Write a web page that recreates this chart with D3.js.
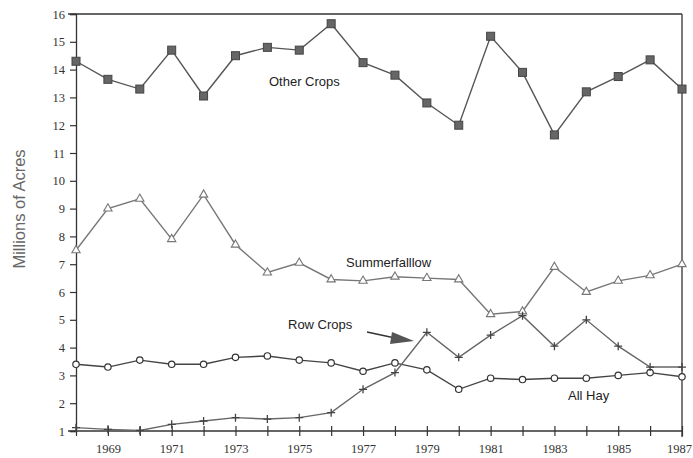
<!DOCTYPE html>
<html><head><meta charset="utf-8">
<script src="https://cdn.jsdelivr.net/npm/d3@7"></script>
<style>body{margin:0;background:#fff}svg{display:block}</style>
</head><body><svg id="c" width="693" height="458"></svg>
<script>
const years = d3.range(1968, 1988);
const yearLabels = [1969,1971,1973,1975,1977,1979,1981,1983,1985,1987];
const yTicks = d3.range(1, 17);
const otherCrops = [14.3,13.65,13.3,14.7,13.05,14.5,14.8,14.7,15.65,14.25,13.8,12.8,12.0,15.2,13.9,11.65,13.2,13.75,14.35,13.3];
const summerfallow = [7.5,9.0,9.35,7.9,9.5,7.7,6.7,7.05,6.45,6.4,6.55,6.5,6.45,5.2,5.3,6.9,6.0,6.4,6.6,7.0];
const allHay = [3.4,3.3,3.55,3.4,3.4,3.65,3.7,3.55,3.45,3.15,3.45,3.2,2.5,2.9,2.85,2.9,2.9,3.0,3.1,2.95];
const rowCrops = [1.12,1.06,1.02,1.24,1.36,1.48,1.43,1.48,1.66,2.5,3.1,4.55,3.65,4.45,5.15,4.05,5.0,4.05,3.3,3.3];

const svg = d3.select("#c");
const L=76, R=682, T=14, B=431;
const x = d3.scaleLinear().domain([1968,1987]).range([L,R]);
const y = d3.scaleLinear().domain([1,16]).range([B,T]);

// frame
svg.append("line").attr("x1",68).attr("x2",R).attr("y1",T).attr("y2",T).attr("stroke","#333").attr("stroke-width",1.3);
svg.append("line").attr("x1",R).attr("x2",R).attr("y1",T).attr("y2",B+6).attr("stroke","#333").attr("stroke-width",1.3);

// y axis
const ya = svg.append("g").attr("transform",`translate(${L},0)`)
  .call(d3.axisLeft(y).tickValues(yTicks).tickSize(6).tickPadding(5).tickFormat(d3.format("d")));
ya.select(".domain").attr("stroke","#333").attr("stroke-width",1.3);
ya.selectAll(".tick line").attr("stroke","#333").attr("stroke-width",1.2);
ya.selectAll("text").attr("font-family","'Liberation Serif', 'DejaVu Serif', serif").attr("font-size",12.5).attr("fill","#333");

// x axis
const xa = svg.append("g").attr("transform",`translate(0,${B})`)
  .call(d3.axisBottom(x).tickValues(years).tickSize(5).tickPadding(8)
    .tickFormat(d => yearLabels.includes(d) ? d : ""));
xa.select(".domain").remove();
svg.append("line").attr("x1",68).attr("x2",R).attr("y1",B).attr("y2",B).attr("stroke","#333").attr("stroke-width",1.3);
xa.selectAll(".tick line").attr("y1",-5).attr("y2",5).attr("stroke","#333").attr("stroke-width",1.2);
xa.selectAll("text").attr("font-family","'Liberation Serif', 'DejaVu Serif', serif").attr("font-size",12.5).attr("fill","#333")
  .attr("dx", d => d === 1987 ? -3 : 0);

// y label
svg.append("text").attr("transform","translate(25,209) rotate(-90)").attr("text-anchor","middle")
  .attr("font-family","'Liberation Sans', Arial, sans-serif").attr("font-size",16.5).attr("fill","#666").text("Millions of Acres");

const line = d3.line().x((d,i)=>x(years[i])).y(d=>y(d));
function drawLine(data, color){
  svg.append("path").datum(data).attr("d",line).attr("fill","none").attr("stroke",color).attr("stroke-width",1.4);
}
drawLine(otherCrops,"#555");
drawLine(summerfallow,"#777");
drawLine(allHay,"#444");
drawLine(rowCrops,"#666");

// markers
svg.append("g").selectAll("rect").data(otherCrops).join("rect")
  .attr("x",(d,i)=>x(years[i])-4).attr("y",d=>y(d)-4).attr("width",8).attr("height",8)
  .attr("fill","#666").attr("stroke","#444").attr("stroke-width",1);
const tri = d3.symbol().type(d3.symbolTriangle).size(30);
svg.append("g").selectAll("path").data(summerfallow).join("path")
  .attr("d",tri).attr("transform",(d,i)=>`translate(${x(years[i])},${y(d)})`)
  .attr("fill","#fff").attr("stroke","#777").attr("stroke-width",1.1);
svg.append("g").selectAll("circle").data(allHay).join("circle")
  .attr("cx",(d,i)=>x(years[i])).attr("cy",d=>y(d)).attr("r",3.2)
  .attr("fill","#fff").attr("stroke","#333").attr("stroke-width",1.2);
svg.append("g").selectAll("path").data(rowCrops).join("path")
  .attr("d",(d,i)=>{const cx=x(years[i]),cy=y(d);return `M${cx-4},${cy}H${cx+4}M${cx},${cy-4}V${cy+4}`;})
  .attr("stroke","#444").attr("stroke-width",1.3);

// labels
const lab = (t,xx,yy)=>svg.append("text").attr("x",xx).attr("y",yy).attr("font-family","'Liberation Sans', Arial, sans-serif")
  .attr("font-size",13).attr("fill","#222").text(t);
lab("Other Crops",269,86);
lab("Summerfalllow",346,267);
lab("Row Crops",288,329);
lab("All Hay",568,400);

// arrow
svg.append("line").attr("x1",367).attr("y1",332).attr("x2",395).attr("y2",338).attr("stroke","#333").attr("stroke-width",1.3);
svg.append("path").attr("d","M392,332 L414,341 L390,344 Z").attr("fill","#555");
</script></body></html>
